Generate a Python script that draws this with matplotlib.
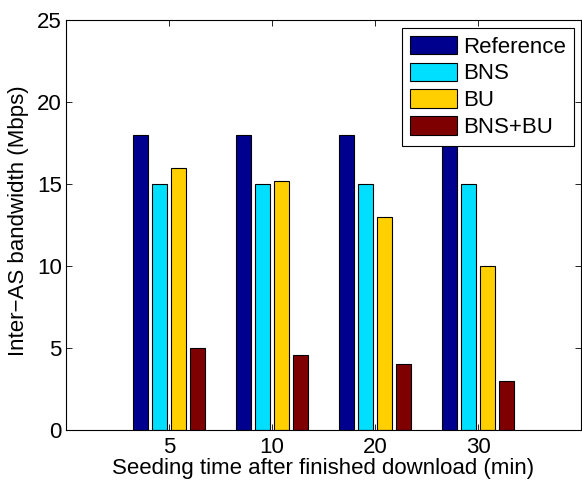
import matplotlib
matplotlib.use("Agg")
import matplotlib.pyplot as plt
import numpy as np

plt.rcParams['font.family'] = ['Liberation Sans', 'DejaVu Sans']

categories = ['5', '10', '20', '30']
series_names = ['Reference', 'BNS', 'BU', 'BNS+BU']
reference = [18, 18, 18, 18]
bns = [15, 15, 15, 15]
bu = [16, 15.2, 13, 10]
bns_bu = [5, 4.6, 4, 3]
colors = ['#00008F', '#00DFFF', '#FFCF00', '#7F0000']

data = [reference, bns, bu, bns_bu]

fig = plt.figure(figsize=(5.82, 4.82), dpi=100)
ax = fig.add_axes([66/582, 1 - 430/482, (581-66)/582, (430-20)/482])

n = len(data)
x = np.arange(1, len(categories) + 1)
group_w = n / (n + 1.5)
step = group_w / n
bw = step * 0.8
for i, (vals, name, c) in enumerate(zip(data, series_names, colors)):
    offs = (i - (n - 1) / 2) * step
    ax.bar(x + offs, vals, width=bw, color=c, edgecolor='black', linewidth=0.8, label=name)

ax.set_xlim(0, 5)
ax.set_ylim(0, 25)
ax.set_xticks(x)
ax.set_xticklabels(categories)
ax.set_yticks([0, 5, 10, 15, 20, 25])
ax.tick_params(direction='in', top=True, right=True, labelsize=16, length=4, width=0.6)
ax.tick_params(axis='x', pad=5)
ax.tick_params(axis='y', pad=3)
for s in ax.spines.values():
    s.set_linewidth(0.8)
ax.set_xlabel('Seeding time after finished download (min)', fontsize=16, labelpad=0)
ax.set_ylabel('Inter\u2212AS bandwidth (Mbps)', fontsize=16)
ax.yaxis.set_label_coords(-0.072, 0.51)

leg = ax.legend(loc='upper right', fontsize=16, frameon=True, fancybox=False,
                edgecolor='black', framealpha=1, borderpad=0.35, labelspacing=0.22,
                handlelength=2.1, handleheight=0.9, handletextpad=0.3,
                borderaxespad=0,
                bbox_to_anchor=(574/582, 1 - 28/482), bbox_transform=fig.transFigure)
leg.get_frame().set_linewidth(0.8)

fig.savefig('out.png', dpi=100)
